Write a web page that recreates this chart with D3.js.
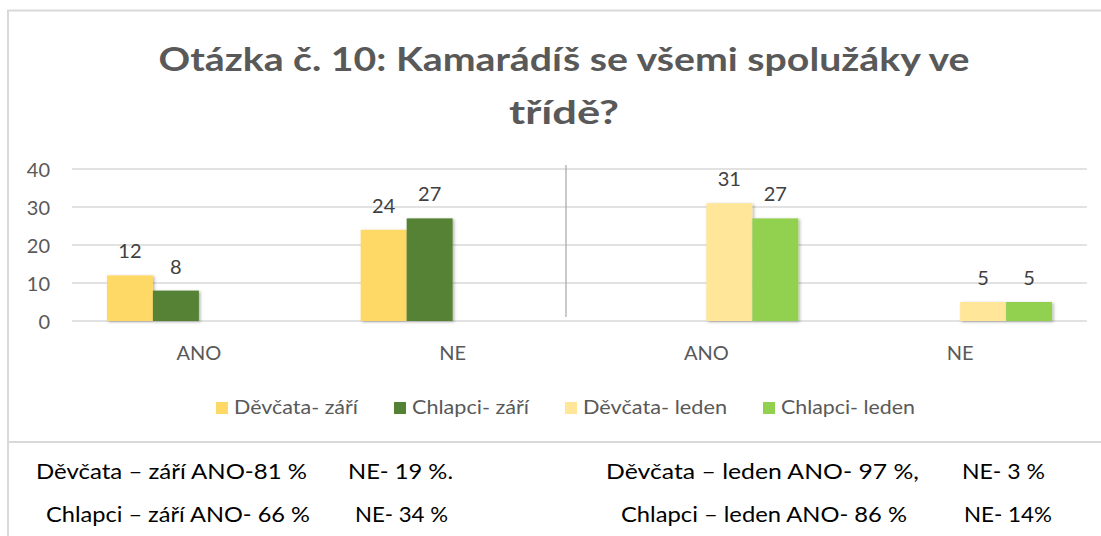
<!DOCTYPE html>
<html>
<head>
<meta charset="utf-8">
<script src="https://cdn.jsdelivr.net/npm/d3@7"></script>
<style>
	body { margin: 0; background: #fff; }
	svg { display: block; font-family: Lato, "Open Sans", sans-serif; }
</style>
</head>
<body>
<svg id="chart" width="1101" height="536"></svg>
<script>
"use strict"

// Chart data
const categories = ["ANO", "NE", "ANO", "NE"]
const series = ["Děvčata- září", "Chlapci- září", "Děvčata- leden", "Chlapci- leden"]
const girlsSept = [12, 24, null, null]
const boysSept = [8, 27, null, null]
const girlsJan = [null, null, 31, 5]
const boysJan = [null, null, 27, 5]
const seriesValues = [girlsSept, boysSept, girlsJan, boysJan]
const seriesColors = ["#FFD966", "#548235", "#FFE699", "#92D050"]
const yTicks = [0, 10, 20, 30, 40]
const titleLines = ["Otázka č. 10: Kamarádíš se všemi spolužáky ve", "třídě?"]

// Summary lines under the chart
const summaryRows = [
	["Děvčata –  září ANO-81 %", "NE- 19 %.", "Děvčata  –  leden ANO- 97 %,", "NE- 3 %"],
	["Chlapci – září ANO- 66 %", "NE- 34 %", "Chlapci – leden ANO- 86 %", "NE- 14%"]
]

const width = 1101, height = 536
const margins = { left: 72, right: 14, top: 169, bottom: 215 }
const plotBottom = 321

const svg = d3.select("#chart")

// drop shadow for bars
const defs = svg.append("defs")
defs.append("filter")
	.attr("id", "shadow")
	.attr("x", "-20%").attr("y", "-20%").attr("width", "140%").attr("height", "140%")
	.append("feDropShadow")
	.attr("dx", 1.5).attr("dy", 1)
	.attr("stdDeviation", 1.5)
	.attr("flood-color", "#000")
	.attr("flood-opacity", 0.3)

// Frame of the chart
svg.append("path")
	.attr("d", "M8," + height + " V10.5 H" + width)
	.attr("fill", "none")
	.attr("stroke", "#d9d9d9")
	.attr("stroke-width", 2)

svg.append("line")
	.attr("x1", 8).attr("x2", width)
	.attr("y1", 442).attr("y2", 442)
	.attr("stroke", "#d9d9d9")
	.attr("stroke-width", 2)

// Title
svg.append("g").selectAll("text")
	.data(titleLines)
	.enter().append("text")
	.attr("x", 564)
	.attr("y", (d, i) => 71 + i * 53)
	.attr("text-anchor", "middle")
	.attr("fill", "#595959")
	.style("font-size", "33px")
	.style("font-weight", "bold")
	.attr("textLength", (d, i) => i === 0 ? 811 : 110)
	.attr("lengthAdjust", "spacingAndGlyphs")
	.text(d => d)

// Scales
const x0 = d3.scaleBand()
	.domain(d3.range(categories.length))
	.range([margins.left, width - margins.right])

const x1 = d3.scaleBand()
	.domain(d3.range(series.length))
	.range([0, x0.bandwidth()])
	.paddingOuter(0.76)

const y = d3.scaleLinear()
	.domain([0, 40])
	.range([plotBottom, margins.top])

// Gridlines
svg.append("g").selectAll("line")
	.data(yTicks)
	.enter().append("line")
	.attr("x1", margins.left)
	.attr("x2", width - margins.right)
	.attr("y1", d => y(d))
	.attr("y2", d => y(d))
	.attr("stroke", "#d9d9d9")
	.attr("stroke-width", 1.6)

// Y axis labels
const yAxis = d3.axisLeft(y).tickValues(yTicks).tickSize(0).tickPadding(0)
const yAxisG = svg.append("g")
	.attr("id", "axis-y")
	.attr("transform", "translate(50,0)")
	.call(yAxis)
yAxisG.select(".domain").remove()
yAxisG.selectAll("text")
	.attr("fill", "#595959")
	.attr("dy", "0.36em")
	.style("font-size", "20px")
	.style("font-family", "Lato, sans-serif")

// Separator between september and january halves
svg.append("line")
	.attr("x1", 566).attr("x2", 566)
	.attr("y1", 165).attr("y2", 317)
	.attr("stroke", "#a6a6a6")
	.attr("stroke-width", 1.2)

// Bars
const barData = []
seriesValues.forEach((vals, s) => {
	vals.forEach((v, c) => {
		if (v !== null) barData.push({ series: s, cat: c, value: v })
	})
})

svg.append("g").selectAll(".bar")
	.data(barData)
	.enter().append("rect")
	.attr("class", "bar")
	.attr("x", d => x0(d.cat) + x1(d.series))
	.attr("y", d => y(d.value))
	.attr("width", x1.bandwidth())
	.attr("height", d => y(0) - y(d.value))
	.attr("fill", d => seriesColors[d.series])
	.attr("filter", "url(#shadow)")

// Value labels
svg.append("g").selectAll("text")
	.data(barData)
	.enter().append("text")
	.attr("x", d => x0(d.cat) + x1(d.series) + x1.bandwidth() / 2)
	.attr("y", d => y(d.value) - 17)
	.attr("text-anchor", "middle")
	.attr("fill", "#404040")
	.style("font-size", "20px")
	.text(d => d.value)

// Category labels
const xAxis = d3.axisBottom(x0).tickSize(0).tickPadding(0).tickFormat(i => categories[i])
const xAxisG = svg.append("g")
	.attr("id", "axis-x")
	.attr("transform", "translate(0,360)")
	.call(xAxis)
xAxisG.select(".domain").remove()
xAxisG.selectAll("text")
	.attr("dy", 0)
	.attr("fill", "#595959")
	.style("font-size", "20px")
	.style("font-family", "Lato, sans-serif")

// Legend, text widths stretched to match the picture
const legendTextW = [124, 117, 144, 134]
const legend = svg.append("g").attr("class", "legend")
const legendItems = legend.selectAll("g")
	.data(series)
	.enter().append("g")

let cursor = 216
const itemX = []
legendTextW.forEach(w => {
	itemX.push(cursor)
	cursor += 18 + w + 36
})

legendItems.append("rect")
	.attr("x", (d, i) => itemX[i])
	.attr("y", 402)
	.attr("width", 12).attr("height", 12)
	.attr("fill", (d, i) => seriesColors[i])

legendItems.append("text")
	.attr("x", (d, i) => itemX[i] + 18)
	.attr("y", 414)
	.attr("fill", "#595959")
	.style("font-size", "20px")
	.attr("textLength", (d, i) => legendTextW[i])
	.attr("lengthAdjust", "spacingAndGlyphs")
	.text(d => d)

// Summary texts under the chart
const summaryX = [36, 348, 606, 962]
const summaryX2 = [46, 355, 621, 964]
const summaryW = [[271, 105, 313, 83], [264, 93, 286, 88]]
summaryRows.forEach((row, r) => {
	svg.append("g").selectAll("text")
		.data(row)
		.enter().append("text")
		.attr("x", (d, i) => r === 0 ? summaryX[i] : summaryX2[i])
		.attr("y", 479 + r * 43)
		.attr("fill", "#000")
		.style("font-size", "22px")
		.attr("textLength", (d, i) => summaryW[r][i])
		.attr("lengthAdjust", "spacingAndGlyphs")
		.text(d => d)
})
</script>
</body>
</html>
